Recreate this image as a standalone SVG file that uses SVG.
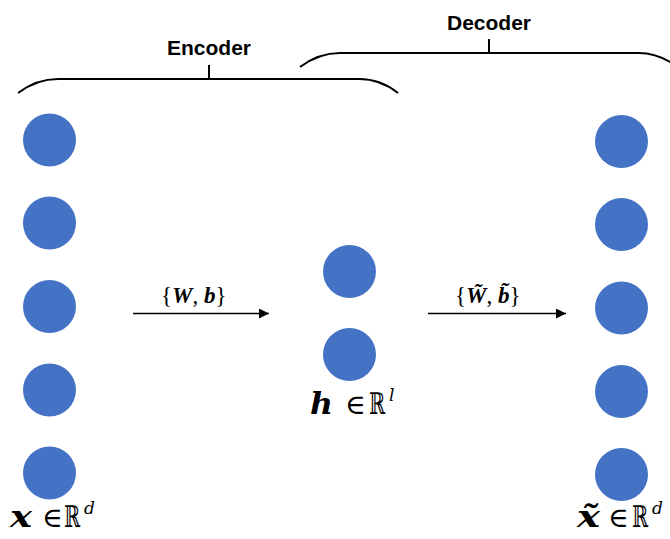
<svg xmlns="http://www.w3.org/2000/svg" width="670" height="539" viewBox="0 0 670 539">
<defs>
<style>
.n{fill:#4472C4}
.br{fill:none;stroke:#000;stroke-width:2}
.lbl{font-family:"Liberation Sans",Arial,sans-serif;font-weight:bold;font-size:21px;fill:#000;text-anchor:middle}
.m{font-family:"DejaVu Serif","Liberation Serif",serif;fill:#000}
.a{font-family:"Liberation Serif","DejaVu Serif",serif;fill:#000;font-size:23px}
.bi{font-weight:bold;font-style:italic}
.it{font-style:italic}
.ln{stroke:#000;stroke-width:1.5;fill:none}
</style>
<marker id="ah" markerWidth="10" markerHeight="10" refX="10" refY="5" orient="auto" markerUnits="userSpaceOnUse">
<path d="M0,0 L10,5 L0,10 Z" fill="#000"/>
</marker>
</defs>
<rect width="670" height="539" fill="#fff"/>
<g id="braces">
<path class="br" d="M18,93 C30,84 42,79 58,79 L359,79 C375,79 388,85 398,93"/>
<line class="br" x1="209" y1="65" x2="209" y2="79"/>
<path class="br" d="M300,67 C312,58 324,53 340,53 L639,53 C652,53 662,57 672,63"/>
<line class="br" x1="489" y1="39" x2="489" y2="53"/>
<text class="lbl" x="209" y="55">Encoder</text>
<text class="lbl" x="489" y="30">Decoder</text>
</g>
<g id="input">
<circle class="n" cx="49.5" cy="140" r="26.5"/>
<circle class="n" cx="49.5" cy="223" r="26.5"/>
<circle class="n" cx="49.5" cy="306.5" r="26.5"/>
<circle class="n" cx="49.5" cy="390" r="26.5"/>
<circle class="n" cx="49.5" cy="473" r="26.5"/>
<text class="m bi" x="10" y="527" font-size="29" textLength="22" lengthAdjust="spacingAndGlyphs">x</text>
<text class="m" x="42" y="527" font-size="28">∈</text>
<text class="m" x="64" y="527" font-size="30" textLength="16" lengthAdjust="spacingAndGlyphs">ℝ</text>
<text class="m it" x="84" y="514" font-size="17">d</text>
</g>
<g id="hidden">
<circle class="n" cx="349.5" cy="271.5" r="26.5"/>
<circle class="n" cx="349.5" cy="354.5" r="26.5"/>
<text class="m bi" x="310" y="414" font-size="29" textLength="23" lengthAdjust="spacingAndGlyphs">h</text>
<text class="m" x="345" y="414" font-size="28">∈</text>
<text class="m" x="369" y="414" font-size="30" textLength="16" lengthAdjust="spacingAndGlyphs">ℝ</text>
<text class="m it" x="389" y="401" font-size="17">l</text>
</g>
<g id="output">
<circle class="n" cx="621.5" cy="141.5" r="26.5"/>
<circle class="n" cx="621.5" cy="224.5" r="26.5"/>
<circle class="n" cx="621.5" cy="308" r="26.5"/>
<circle class="n" cx="621.5" cy="391.5" r="26.5"/>
<circle class="n" cx="621.5" cy="474.5" r="26.5"/>
<text class="m bi" x="577" y="527" font-size="29" textLength="23" lengthAdjust="spacingAndGlyphs">x̃</text>
<text class="m" x="608" y="527" font-size="28">∈</text>
<text class="m" x="632" y="527" font-size="30" textLength="16" lengthAdjust="spacingAndGlyphs">ℝ</text>
<text class="m it" x="652" y="514" font-size="17">d</text>
</g>
<g id="connectors">
<line class="ln" x1="133" y1="313.5" x2="269" y2="313.5" marker-end="url(#ah)"/>
<line class="ln" x1="428" y1="313.5" x2="566" y2="313.5" marker-end="url(#ah)"/>
<text class="a" x="161" y="303">{<tspan class="bi">W</tspan>, <tspan class="bi">b</tspan>}</text>
<text class="a" x="455" y="303">{<tspan class="bi">W̃</tspan>, <tspan class="bi">b̃</tspan>}</text>
</g>
</svg>
